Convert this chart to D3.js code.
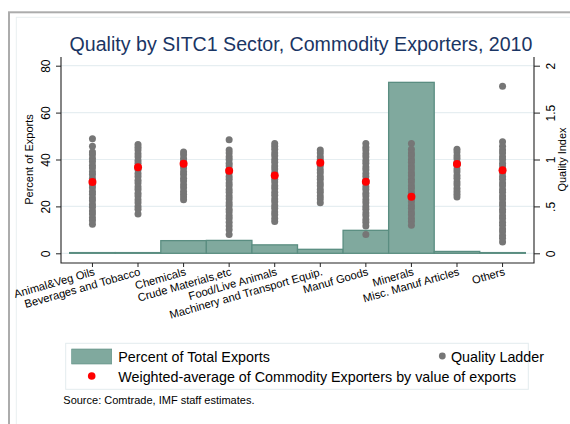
<!DOCTYPE html>
<html>
<head>
<meta charset="utf-8">
<script src="https://cdn.jsdelivr.net/npm/d3@7"></script>
<style>
  body { margin: 0; background: #fff; }
  svg { font-family: "Liberation Sans", Arial, sans-serif; }
</style>
</head>
<body>
<svg id="chart"></svg>
<script>
// SITC1 sectors
const categories = ['Animal&Veg Oils', 'Beverages and Tobacco', 'Chemicals', 'Crude Materials,etc',
    'Food/Live Animals', 'Machinery and Transport Equip.', 'Manuf Goods', 'Minerals',
    'Misc. Manuf Articles', 'Others'];

// percent of total exports (bars, left axis)
const percentExports = [0.3, 0.3, 5.4, 5.5, 3.6, 1.7, 9.8, 72.9, 0.8, 0.3];

// weighted-average quality (red dots, right axis)
const weightedQuality = [0.76, 0.917, 0.955, 0.88, 0.83, 0.966, 0.763, 0.603, 0.952, 0.885];

// quality ladder, one list per sector (grey dots, right axis)
const qAnimalOils = [1.22, 1.14, 1.08, 1.05, 1.01, 0.98, 0.94, 0.91, 0.87, 0.84, 0.80, 0.77, 0.73, 0.70,
    0.66, 0.63, 0.59, 0.56, 0.52, 0.49, 0.45, 0.42, 0.38, 0.35, 0.31];
const qBeverages = [1.16, 1.13, 1.10, 1.06, 1.03, 0.99, 0.96, 0.92, 0.89, 0.85, 0.82, 0.78, 0.75, 0.71,
    0.68, 0.64, 0.61, 0.57, 0.54, 0.50, 0.47, 0.42];
const qChemicals = [1.08, 1.05, 1.01, 0.98, 0.94, 0.91, 0.87, 0.84, 0.80, 0.77, 0.73, 0.70, 0.66, 0.63,
    0.60, 0.57];
const qCrude = [1.21, 1.10, 1.07, 1.03, 1.00, 0.96, 0.93, 0.89, 0.86, 0.82, 0.79, 0.75, 0.72, 0.68, 0.65,
    0.61, 0.58, 0.54, 0.51, 0.47, 0.44, 0.40, 0.37, 0.33, 0.29, 0.25, 0.20];
const qFood = [1.17, 1.14, 1.11, 1.07, 1.04, 1.00, 0.97, 0.93, 0.90, 0.86, 0.83, 0.79, 0.76, 0.72, 0.69,
    0.65, 0.62, 0.58, 0.55, 0.51, 0.48, 0.44, 0.41, 0.37, 0.34];
const qMachinery = [1.10, 1.07, 1.03, 1.00, 0.96, 0.93, 0.89, 0.86, 0.82, 0.79, 0.75, 0.72, 0.68, 0.65,
    0.61, 0.58, 0.54];
const qManuf = [1.17, 1.13, 1.10, 1.06, 1.03, 0.99, 0.96, 0.92, 0.89, 0.85, 0.82, 0.78, 0.75, 0.71, 0.68,
    0.64, 0.61, 0.57, 0.54, 0.50, 0.47, 0.43, 0.40, 0.36, 0.33, 0.29, 0.20];
const qMinerals = [1.17, 1.11, 1.07, 1.04, 1.00, 0.97, 0.93, 0.90, 0.86, 0.83, 0.79, 0.76, 0.72, 0.69,
    0.65, 0.62, 0.58, 0.55, 0.51, 0.48, 0.44, 0.41, 0.37, 0.34, 0.30];
const qMisc = [1.11, 1.08, 1.04, 1.01, 0.97, 0.94, 0.90, 0.87, 0.83, 0.80, 0.76, 0.73, 0.69, 0.66, 0.63,
    0.60];
const qOthers = [1.78, 1.19, 1.14, 1.10, 1.07, 1.03, 1.00, 0.96, 0.93, 0.89, 0.86, 0.82, 0.79, 0.75,
    0.72, 0.68, 0.65, 0.61, 0.58, 0.54, 0.51, 0.47, 0.44, 0.40, 0.37, 0.33, 0.30, 0.26, 0.23, 0.19,
    0.16, 0.12];
const qualityLadder = [qAnimalOils, qBeverages, qChemicals, qCrude, qFood, qMachinery, qManuf,
    qMinerals, qMisc, qOthers];

const leftTicks = [0, 20, 40, 60, 80];
const rightTicks = [0, 0.5, 1, 1.5, 2];
const rightTickLabels = ['0', '.5', '1', '1.5', '2'];

const W = 570, H = 424;
const plot = {left: 61, right: 534, top: 57, bottom: 263};
const barFill = '#80a99e', barStroke = '#5a8d81', dotGrey = '#767676', dotRed = '#ff0000';

const svg = d3.select('#chart').attr('width', W).attr('height', H);

// graph frame
svg.append('rect').attr('x', 9).attr('y', 12.3).attr('width', 620).attr('height', 460)
    .attr('fill', '#fff').attr('stroke', '#acacac').attr('stroke-width', 2);
svg.append('rect').attr('x', 16.3).attr('y', 17.3).attr('width', 620).attr('height', 460)
    .attr('fill', 'none').attr('stroke', '#e9eff1').attr('stroke-width', 1);

const x = d3.scaleBand()
    .domain(categories)
    .range([plot.left, plot.right])
    .paddingInner(0)
    .paddingOuter(0.19);

const yPct = d3.scaleLinear().domain([0, 80]).range([253.3, 65.7]);
const yQ = d3.scaleLinear().domain([0, 2]).range([253.3, 65.7]);

// grid
svg.append('g').selectAll('line')
    .data(leftTicks)
    .join('line')
    .attr('x1', plot.left).attr('x2', plot.right)
    .attr('y1', d => yPct(d)).attr('y2', d => yPct(d))
    .attr('stroke', '#e6eef1').attr('stroke-width', 1.2);

// bars
svg.append('g').selectAll('rect')
    .data(categories)
    .join('rect')
    .attr('x', d => x(d))
    .attr('width', x.bandwidth())
    .attr('y', (d, i) => yPct(percentExports[i]))
    .attr('height', (d, i) => yPct(0) - yPct(percentExports[i]))
    .attr('fill', barFill)
    .attr('stroke', barStroke)
    .attr('stroke-width', 1.3);

// quality ladder
const ladderPts = qualityLadder.flatMap((vals, i) => vals.map(v => ({cat: categories[i], q: v})));
svg.append('g').selectAll('circle')
    .data(ladderPts)
    .join('circle')
    .attr('cx', d => x(d.cat) + x.bandwidth() / 2)
    .attr('cy', d => yQ(d.q))
    .attr('r', 3.5)
    .attr('fill', dotGrey);

svg.append('g').selectAll('circle')
    .data(categories)
    .join('circle')
    .attr('cx', d => x(d) + x.bandwidth() / 2)
    .attr('cy', (d, i) => yQ(weightedQuality[i]))
    .attr('r', 4)
    .attr('fill', dotRed);

// axes
const leftAxis = svg.append('g')
    .attr('transform', `translate(${plot.left},0)`)
    .call(d3.axisLeft(yPct).tickValues(leftTicks).tickSize(5).tickSizeOuter(0).tickPadding(0));
const rightAxis = svg.append('g')
    .attr('transform', `translate(${plot.right},0)`)
    .call(d3.axisRight(yQ).tickValues(rightTicks).tickSize(6).tickSizeOuter(0)
        .tickFormat((d, i) => rightTickLabels[i]));
const bottomAxis = svg.append('g')
    .attr('transform', `translate(0,${plot.bottom})`)
    .call(d3.axisBottom(x).tickSize(4).tickSizeOuter(0));

[leftAxis, rightAxis, bottomAxis].forEach(g => {
    g.select('.domain').remove();
    g.selectAll('.tick line').attr('stroke', '#222');
});
svg.append('path')
    .attr('d', `M${plot.left},${plot.top}V${plot.bottom}H${plot.right}V${plot.top}`)
    .attr('fill', 'none').attr('stroke', '#222').attr('stroke-width', 1.1);

leftAxis.selectAll('.tick text')
    .attr('font-size', 12).attr('fill', '#000')
    .attr('text-anchor', 'middle')
    .attr('transform', 'translate(-11.5,0) rotate(-90)')
    .attr('x', 0).attr('y', 0).attr('dy', 0);
rightAxis.selectAll('.tick text')
    .attr('font-size', 12).attr('fill', '#000')
    .attr('text-anchor', 'middle')
    .attr('transform', 'translate(21,0) rotate(-90)')
    .attr('x', 0).attr('y', 0).attr('dy', 0);
bottomAxis.selectAll('.tick text')
    .attr('font-size', 11.2).attr('fill', '#000')
    .attr('text-anchor', 'end')
    .attr('transform', 'translate(3,12) rotate(-16)')
    .attr('x', 0).attr('y', 0).attr('dy', 0);

// axis titles
svg.append('text')
    .attr('transform', `translate(33,${(yPct(0) + yPct(80)) / 2}) rotate(-90)`)
    .attr('text-anchor', 'middle').attr('font-size', 11)
    .text('Percent of Exports');
svg.append('text')
    .attr('transform', `translate(566,${(yQ(0) + yQ(2)) / 2}) rotate(-90)`)
    .attr('text-anchor', 'middle').attr('font-size', 11)
    .text('Quality Index');

svg.append('text')
    .attr('x', 301).attr('y', 50.7)
    .attr('text-anchor', 'middle')
    .attr('font-size', 19.6)
    .attr('fill', '#1a3564')
    .text('Quality by SITC1 Sector, Commodity Exporters, 2010');

// legend
const legend = svg.append('g');
legend.append('rect').attr('x', 65.7).attr('y', 343.3).attr('width', 462.6).attr('height', 46)
    .attr('fill', '#fff').attr('stroke', '#e3ebee');
legend.append('rect').attr('x', 71.7).attr('y', 349).attr('width', 40).attr('height', 15)
    .attr('fill', barFill).attr('stroke', barStroke).attr('stroke-width', 0.6);
legend.append('circle').attr('cx', 442.3).attr('cy', 356).attr('r', 3.4).attr('fill', dotGrey);
legend.append('circle').attr('cx', 91.7).attr('cy', 376).attr('r', 3.8).attr('fill', dotRed);
legend.append('text').attr('x', 118.3).attr('y', 361.7).attr('font-size', 14.3)
    .text('Percent of Total Exports');
legend.append('text').attr('x', 451).attr('y', 361.7).attr('font-size', 14.3)
    .text('Quality Ladder');
legend.append('text').attr('x', 118.3).attr('y', 381.7).attr('font-size', 14.3)
    .text('Weighted-average of Commodity Exporters by value of exports');

svg.append('text').attr('x', 63.3).attr('y', 404.3).attr('font-size', 11)
    .text('Source: Comtrade, IMF staff estimates.');
</script>
</body>
</html>
